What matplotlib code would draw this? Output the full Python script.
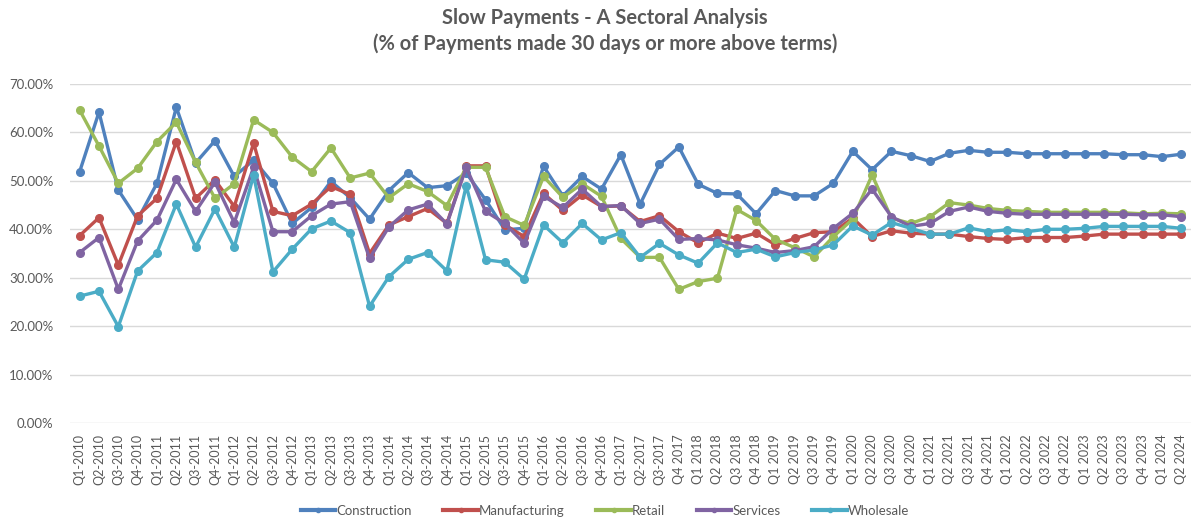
import matplotlib
matplotlib.use("Agg")
import matplotlib.pyplot as plt
from matplotlib.ticker import FuncFormatter, MultipleLocator

quarters = (
    ["Q1-2010", "Q2-2010", "Q3-2010", "Q4-2010",
     "Q1-2011", "Q2-2011", "Q3-2011", "Q4-2011",
     "Q1-2012", "Q2-2012", "Q3-2012", "Q4-2012",
     "Q1-2013", "Q2-2013", "Q3-2013", "Q4-2013",
     "Q1-2014", "Q2-2014", "Q3-2014", "Q4-2014",
     "Q1-2015", "Q2-2015", "Q3-2015", "Q4-2015",
     "Q1-2016", "Q2-2016", "Q3-2016", "Q4-2016",
     "Q1-2017", "Q2-2017", "Q3-2017", "Q4 2017",
     "Q1 2018", "Q2 2018", "Q3 2018", "Q4 2018",
     "Q1 2019", "Q2 2019", "Q3 2019", "Q4 2019",
     "Q1 2020", "Q2 2020", "Q3 2020", "Q4 2020",
     "Q1 2021", "Q2 2021", "Q3 2021", "Q4 2021",
     "Q1 2022", "Q2 2022", "Q3 2022", "Q4 2022",
     "Q1 2023", "Q2 2023", "Q3 2023", "Q4 2023",
     "Q1 2024", "Q2 2024"]
)

construction = [51.9, 64.2, 48.1, 42.0, 49.5, 65.2, 53.7, 58.3, 50.9, 54.3,
                49.5, 41.2, 44.5, 49.9, 46.5, 42.1, 48.0, 51.7, 48.6, 49.0,
                51.6, 46.1, 39.9, 40.2, 53.0, 46.9, 50.9, 48.3, 55.4, 45.2,
                53.4, 57.0, 49.3, 47.4, 47.3, 43.2, 48.0, 46.9, 46.9, 49.5,
                56.1, 52.3, 56.1, 55.2, 54.0, 55.7, 56.3, 55.9, 55.9, 55.6,
                55.6, 55.6, 55.6, 55.6, 55.4, 55.4, 55.0, 55.5]
manufacturing = [38.7, 42.4, 32.6, 42.8, 46.4, 58.1, 46.4, 50.2, 44.7, 57.8,
                 43.7, 42.8, 45.2, 48.8, 47.2, 35.0, 40.9, 42.6, 44.3, 41.2,
                 53.1, 53.1, 40.9, 38.5, 47.4, 43.9, 47.1, 44.7, 44.8, 41.6,
                 42.8, 39.5, 37.2, 39.2, 38.1, 39.2, 36.8, 38.1, 39.3, 39.5,
                 42.3, 38.5, 39.7, 39.2, 39.0, 39.0, 38.5, 38.1, 37.9, 38.3,
                 38.3, 38.3, 38.6, 39.0, 39.0, 39.0, 39.0, 39.0]
retail = [64.6, 57.2, 49.5, 52.6, 58.1, 62.1, 53.8, 46.4, 49.4, 62.6,
          60.0, 54.9, 51.9, 56.8, 50.6, 51.6, 46.5, 49.4, 47.8, 44.9,
          52.8, 52.8, 42.6, 40.8, 50.9, 46.6, 49.4, 46.8, 38.1, 34.2,
          34.2, 27.6, 29.2, 29.9, 44.1, 41.8, 37.9, 36.2, 34.3, 38.5,
          42.1, 51.2, 42.3, 41.2, 42.6, 45.5, 45.0, 44.3, 43.9, 43.7,
          43.5, 43.5, 43.5, 43.5, 43.4, 43.2, 43.3, 43.2]
services = [35.2, 38.3, 27.6, 37.6, 41.9, 50.3, 43.7, 49.7, 41.4, 52.8,
            39.5, 39.5, 42.8, 45.2, 45.7, 34.0, 40.5, 44.0, 45.2, 41.1,
            52.8, 43.7, 41.2, 37.1, 46.8, 44.5, 48.3, 44.7, 44.9, 41.2,
            42.1, 37.9, 38.1, 37.8, 36.8, 36.1, 35.2, 35.6, 36.4, 40.2,
            43.3, 48.3, 42.6, 40.6, 41.2, 43.7, 44.6, 43.7, 43.3, 43.1,
            43.1, 43.1, 43.1, 43.1, 43.1, 43.0, 43.0, 42.6]
wholesale = [26.2, 27.2, 19.9, 31.4, 35.2, 45.2, 36.3, 44.2, 36.3, 51.2,
             31.2, 35.9, 40.1, 41.7, 39.3, 24.1, 30.2, 33.8, 35.2, 31.4,
             49.0, 33.7, 33.2, 29.7, 40.9, 37.2, 41.2, 37.8, 39.3, 34.2,
             37.1, 34.7, 33.0, 37.2, 35.2, 35.9, 34.3, 35.2, 35.7, 36.8,
             40.7, 38.8, 41.4, 40.2, 39.0, 39.0, 40.3, 39.5, 39.9, 39.5,
             40.0, 40.0, 40.2, 40.6, 40.6, 40.6, 40.6, 40.2]

series_names = ["Construction", "Manufacturing", "Retail", "Services", "Wholesale"]
series_values = [construction, manufacturing, retail, services, wholesale]
colors = ["#4F81BD", "#C0504D", "#9BBB59", "#8064A2", "#4BACC6"]

title_text = "Slow Payments - A Sectoral Analysis\n(% of Payments made 30 days or more above terms)"

plt.rcParams['font.family'] = ['Lato', 'DejaVu Sans']
text_color = "#595959"

fig = plt.figure(figsize=(11.92, 5.21), dpi=100)
ax = fig.add_axes([70 / 1192, 1 - 423 / 521, 1121 / 1192, (423 - 84) / 521])

x = list(range(len(quarters)))
for name, vals, c in zip(series_names, series_values, colors):
    ax.plot(x, vals, color=c, linewidth=2.4, marker="o", markersize=5.5,
            label=name, solid_joinstyle="round")

ax.set_xlim(-0.5, len(quarters) - 0.5)
ax.set_ylim(0, 70)
ax.yaxis.set_major_locator(MultipleLocator(10))
ax.yaxis.set_major_formatter(FuncFormatter(lambda v, p: f"{v:.2f}%"))
ax.grid(axis="y", color="#D9D9D9", linewidth=1.0)
ax.set_axisbelow(True)
for s in ax.spines.values():
    s.set_visible(False)
ax.set_xticks(x)
ax.set_xticklabels(quarters, rotation=90, fontsize=9, color=text_color)
ax.tick_params(axis="both", length=0, labelcolor=text_color)
ax.tick_params(axis="y", labelsize=9.5, pad=12)
ax.tick_params(axis="x", pad=8)

fig.text(605 / 1192, 1 - 31 / 521, title_text, ha="center", va="center",
         fontsize=14.5, fontweight="bold", color=text_color, linespacing=1.3)

leg = fig.legend(loc="center", bbox_to_anchor=(605 / 1192, 1 - 511 / 521), ncol=5,
                 frameon=False, fontsize=9.5, handlelength=2.6, columnspacing=2.4,
                 handletextpad=0.1, labelcolor=text_color)
for h in leg.legend_handles:
    h.set_markersize(3)
    h.set_linewidth(3)

fig.savefig("out.png", dpi=100)
